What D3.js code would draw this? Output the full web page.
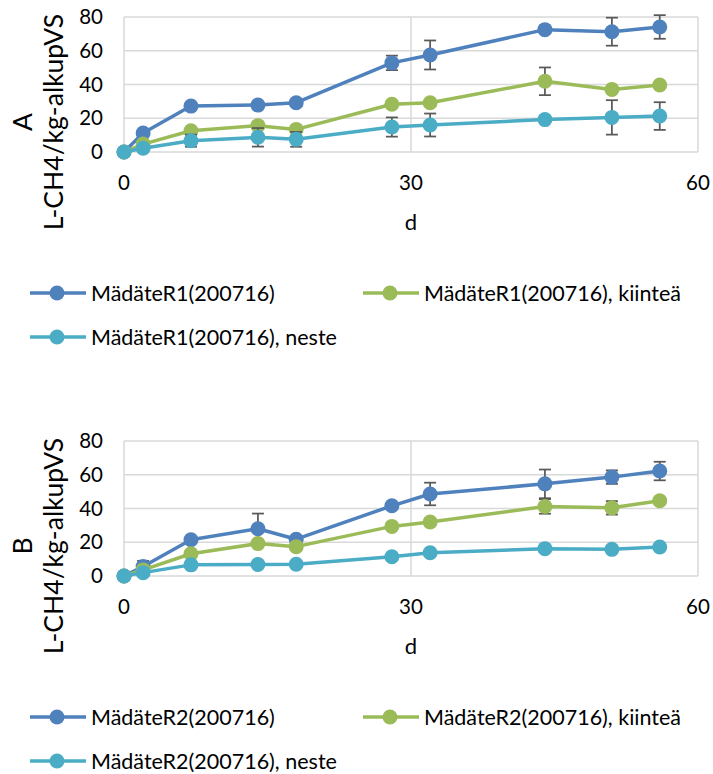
<!DOCTYPE html>
<html>
<head>
<meta charset="utf-8">
<script src="https://cdn.jsdelivr.net/npm/d3@7"></script>
<style>
  html, body { margin: 0; background: #fff; }
  svg { display: block; font-family: Lato, "Noto Sans", sans-serif; }
</style>
</head>
<body>
<svg id="chart" width="713" height="774"></svg>
<script>
// Sampling days, shared by both panels.
const days = [0, 2, 7, 14, 18, 28, 32, 44, 51, 56];
const xTicks = [0, 30, 60];
const yTicks = [0, 20, 40, 60, 80];

// Panel A (reactor 1).
const namesA = ['MädäteR1(200716)', 'MädäteR1(200716), kiinteä', 'MädäteR1(200716), neste'];
const totalA = [0, 11.2, 27.2, 27.8, 29.2, 52.8, 57.5, 72.5, 71.3, 74.1];
const totalErrA = [0, 1, 1.5, 1.5, 1.5, 4.3, 8.6, 1, 8.3, 7];
const solidA = [0, 4.7, 12.6, 15.6, 13.4, 28.3, 29.2, 41.9, 37.1, 39.7];
const solidErrA = [0, 1, 1, 1, 1, 1, 1, 8.2, 1, 1];
const liquidA = [0, 2.2, 6.7, 8.7, 7.5, 14.8, 16, 19.2, 20.5, 21.3];
const liquidErrA = [0, 1, 3.6, 5.5, 4.4, 5.7, 6.8, 1, 10.2, 8.2];

// Panel B (reactor 2).
const namesB = ['MädäteR2(200716)', 'MädäteR2(200716), kiinteä', 'MädäteR2(200716), neste'];
const totalB = [0, 5.6, 21.5, 28, 21.8, 41.6, 48.6, 54.6, 58.6, 62.2];
const totalErrB = [0, 3.4, 1.5, 9, 1, 1, 6.7, 8.5, 4, 5.5];
const solidB = [0, 3.6, 13.2, 19.2, 17.4, 29.4, 32, 41.2, 40.4, 44.6];
const solidErrB = [0, 1, 1, 2, 1, 1, 2, 4.3, 4, 1];
const liquidB = [0, 2, 6.6, 6.8, 7, 11.4, 13.8, 16.2, 15.8, 17.2];
const liquidErrB = [0, 1, 1, 1, 1, 1, 1, 1, 1, 1];

const colors = ['#4f81bd', '#9bbb59', '#4bacc6'];
const yTitle = 'L-CH4/kg-alkupVS';
const xTitle = 'd';

const panels = [
  {label: 'A', top: 17, names: namesA, values: [totalA, solidA, liquidA], errors: [totalErrA, solidErrA, liquidErrA]},
  {label: 'B', top: 441, names: namesB, values: [totalB, solidB, liquidB], errors: [totalErrB, solidErrB, liquidErrB]},
];

const svg = d3.select('#chart');
svg.append('rect').attr('width', 713).attr('height', 774).attr('fill', '#fff');

const plotLeft = 124;
const plotRight = 698;
const plotHeight = 135;

function drawPanel(panel) {
  const g = svg.append('g');
  const bottom = panel.top + plotHeight;

  const x = d3.scaleLinear().domain([0, 60]).range([plotLeft, plotRight]);
  const y = d3.scaleLinear().domain([0, 80]).range([bottom, panel.top]);

  // Gridlines (Excel style, light gray both ways).
  g.append('g')
    .selectAll('line')
    .data(yTicks)
    .join('line')
    .attr('x1', plotLeft)
    .attr('x2', plotRight)
    .attr('y1', (d) => y(d))
    .attr('y2', (d) => y(d))
    .attr('stroke', '#d9d9d9')
    .attr('stroke-width', 1.5);

  g.append('g')
    .selectAll('line')
    .data(xTicks)
    .join('line')
    .attr('x1', (d) => x(d))
    .attr('x2', (d) => x(d))
    .attr('y1', panel.top)
    .attr('y2', bottom)
    .attr('stroke', '#d9d9d9')
    .attr('stroke-width', 1.5);

  // Tick labels.
  g.append('g')
    .selectAll('text')
    .data(yTicks)
    .join('text')
    .attr('x', plotLeft - 21)
    .attr('y', (d) => y(d))
    .attr('dy', '0.35em')
    .attr('text-anchor', 'end')
    .attr('font-size', 20.5)
    .text((d) => d);

  g.append('g')
    .selectAll('text')
    .data(xTicks)
    .join('text')
    .attr('x', (d) => x(d))
    .attr('y', bottom + 38)
    .attr('text-anchor', 'middle')
    .attr('font-size', 20.5)
    .text((d) => d);

  // Axis titles. The y title is two rotated lines: panel letter, then unit.
  g.append('text')
    .attr('x', (plotLeft + plotRight) / 2)
    .attr('y', bottom + 78)
    .attr('text-anchor', 'middle')
    .attr('font-size', 22)
    .text(xTitle);

  const titleY = panel.top + 105;
  [[panel.label, 32], [yTitle, 63]].forEach(([txt, bx]) => {
    g.append('text')
      .attr('transform', `translate(${bx},${titleY}) rotate(-90)`)
      .attr('text-anchor', 'middle')
      .attr('font-size', 26.5)
      .text(txt);
  });

  // Series: error bars under line and markers, drawn in series order.
  panel.values.forEach((vals, i) => {
    const pts = days.map((d, k) => ({d, v: vals[k], e: panel.errors[i][k]}));
    const sg = g.append('g');

    const eb = sg.append('g')
      .selectAll('g')
      .data(pts.filter((p) => p.e > 0))
      .join('g')
      .attr('stroke', '#595959')
      .attr('stroke-width', 1.75);
    eb.append('line')
      .attr('x1', (p) => x(p.d))
      .attr('x2', (p) => x(p.d))
      .attr('y1', (p) => y(p.v - p.e))
      .attr('y2', (p) => y(p.v + p.e));
    [-1, 1].forEach((s) => {
      eb.append('line')
        .attr('x1', (p) => x(p.d) - 6)
        .attr('x2', (p) => x(p.d) + 6)
        .attr('y1', (p) => y(p.v + s * p.e))
        .attr('y2', (p) => y(p.v + s * p.e));
    });

    sg.append('path')
      .datum(pts)
      .attr('fill', 'none')
      .attr('stroke', colors[i])
      .attr('stroke-width', 3.5)
      .attr('stroke-linejoin', 'round')
      .attr('d', d3.line().x((p) => x(p.d)).y((p) => y(p.v)));

    sg.append('g')
      .selectAll('circle')
      .data(pts)
      .join('circle')
      .attr('cx', (p) => x(p.d))
      .attr('cy', (p) => y(p.v))
      .attr('r', 7.5)
      .attr('fill', colors[i]);
  });

  // Legend, two columns then wrap.
  const legendPos = [[30, panel.top + 276], [363, panel.top + 276], [30, panel.top + 320]];
  panel.names.forEach((name, i) => {
    const [lx, ly] = legendPos[i];
    const lg = g.append('g').attr('transform', `translate(${lx},${ly})`);
    lg.append('line')
      .attr('x1', 0)
      .attr('x2', 56)
      .attr('stroke', colors[i])
      .attr('stroke-width', 3.5);
    lg.append('circle').attr('cx', 27).attr('r', 7.5).attr('fill', colors[i]);
    lg.append('text')
      .attr('x', 61)
      .attr('dy', '0.35em')
      .attr('font-size', 21.5)
      .text(name);
  });
}

panels.forEach(drawPanel);
</script>
</body>
</html>
